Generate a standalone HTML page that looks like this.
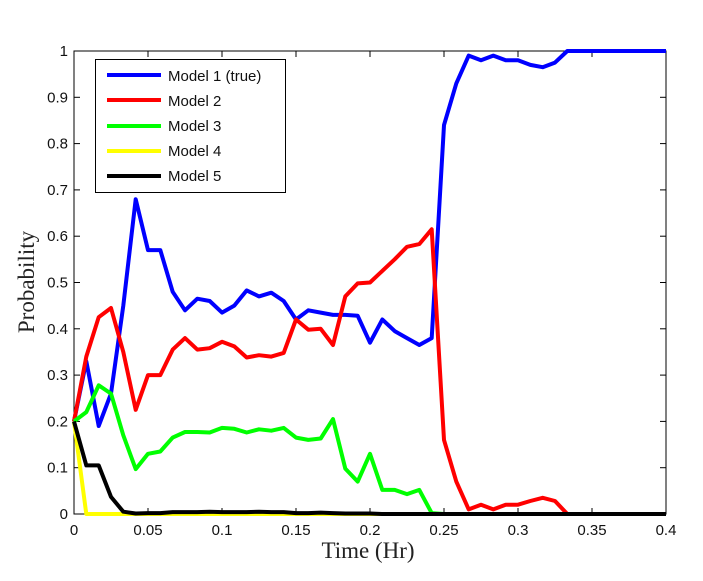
<!DOCTYPE html><html><head><style>body{margin:0;background:#fff}svg text{font-family:"Liberation Sans",sans-serif}</style></head><body>
<svg id="s" width="703" height="576" xmlns="http://www.w3.org/2000/svg">
<rect x="74" y="51" width="592" height="463" fill="#fff" stroke="#000" stroke-width="1"/>
<g id="ticks"></g><g id="lines"></g>
<text x="34" y="282" transform="rotate(-90 34 282)" text-anchor="middle" font-size="23" style="font-family:'Liberation Serif',serif" fill="#222">Probability</text>
<text x="368" y="558" text-anchor="middle" font-size="23" style="font-family:'Liberation Serif',serif" fill="#222">Time (Hr)</text>
<rect x="95.5" y="59.5" width="190" height="133" fill="#fff" stroke="#000" stroke-width="1"/>
<g stroke-width="4">
<line x1="107" y1="75" x2="161" y2="75" stroke="#00f"/>
<line x1="107" y1="100" x2="161" y2="100" stroke="#f00"/>
<line x1="107" y1="126" x2="161" y2="126" stroke="#0f0"/>
<line x1="107" y1="151" x2="161" y2="151" stroke="#ff0"/>
<line x1="107" y1="176" x2="161" y2="176" stroke="#000"/>
</g>
<g font-size="15" fill="#111">
<text x="168" y="81">Model 1 (true)</text>
<text x="168" y="106">Model 2</text>
<text x="168" y="131">Model 3</text>
<text x="168" y="156">Model 4</text>
<text x="168" y="181">Model 5</text>
</g>
</svg>
<script>
var X=function(i){return 74+i*592/48},Y=function(v){return 514-v*463};
var ns="http://www.w3.org/2000/svg",t=document.getElementById('ticks'),L=document.getElementById('lines');
var h='';
for(var k=0;k<=8;k++){var x=74+k*74;h+='<line x1="'+x+'" y1="514" x2="'+x+'" y2="508" stroke="#000"/><line x1="'+x+'" y1="51" x2="'+x+'" y2="57" stroke="#000"/>';
h+='<text x="'+x+'" y="535" text-anchor="middle" font-size="15" fill="#111">'+(k==0?'0':(k*0.05).toFixed(2).replace(/0$/,''))+'</text>';}
for(var k=0;k<=10;k++){var y=Y(k/10);h+='<line x1="74" y1="'+y+'" x2="80" y2="'+y+'" stroke="#000"/><line x1="666" y1="'+y+'" x2="660" y2="'+y+'" stroke="#000"/>';
h+='<text x="68" y="'+(y+5)+'" text-anchor="end" font-size="15" fill="#111">'+(k==0?'0':k==10?'1':(k/10).toFixed(1))+'</text>';}
t.innerHTML=h;
function pad(a){while(a.length<49)a.push(a[a.length-1]);return a}
var blue=pad([0.2,0.33,0.19,0.26,0.45,0.68,0.57,0.57,0.48,0.44,0.465,0.46,0.435,0.45,0.483,0.47,0.478,0.46,0.42,0.44,0.435,0.43,0.43,0.428,0.37,0.42,0.395,0.38,0.365,0.38,0.84,0.93,0.99,0.98,0.99,0.98,0.98,0.97,0.965,0.975,1]);
var red=pad([0.2,0.34,0.425,0.445,0.35,0.225,0.3,0.3,0.355,0.38,0.355,0.358,0.372,0.362,0.338,0.343,0.34,0.348,0.42,0.398,0.4,0.365,0.47,0.498,0.5,0.525,0.55,0.577,0.583,0.615,0.16,0.07,0.01,0.02,0.01,0.02,0.02,0.028,0.035,0.028,0]);
var green=pad([0.2,0.22,0.278,0.26,0.17,0.097,0.13,0.135,0.165,0.177,0.177,0.176,0.186,0.184,0.176,0.183,0.18,0.186,0.165,0.16,0.163,0.205,0.098,0.07,0.13,0.052,0.052,0.043,0.052,0.002,0]);
var yel=pad([0.2,0]);
var blk=pad([0.2,0.105,0.105,0.037,0.005,0.001,0.002,0.002,0.004,0.004,0.004,0.005,0.004,0.004,0.004,0.005,0.004,0.004,0.002,0.002,0.003,0.002,0.001,0.001,0.001,0]);
function pl(a,c){var p=a.map(function(v,i){return X(i).toFixed(1)+','+Y(v).toFixed(1)}).join(' ');
var e=document.createElementNS(ns,'polyline');e.setAttribute('points',p);e.setAttribute('fill','none');e.setAttribute('stroke',c);e.setAttribute('stroke-width','4');e.setAttribute('stroke-linejoin','round');L.appendChild(e);}
pl(yel,'#ff0');pl(blue,'#00f');pl(red,'#f00');pl(green,'#0f0');pl(blk,'#000');
</script></body></html>
